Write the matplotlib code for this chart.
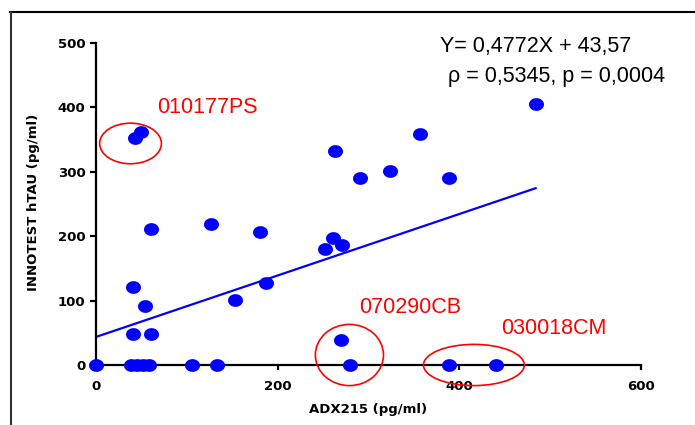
import matplotlib
matplotlib.use("Agg")
import numpy as np
import matplotlib.pyplot as plt
from matplotlib.patches import Ellipse
from matplotlib.lines import Line2D
from matplotlib.path import Path

# ---- data ----
adx215 = [0, 38, 45, 52, 58, 106, 133, 41, 54, 41, 60, 60, 127, 180, 187, 153,
          252, 261, 271, 270, 280, 389, 440, 43, 50, 263, 484, 357, 324, 291, 389]
htau = [0, 0, 0, 0, 0, 0, 0, 121, 92, 48, 48, 211, 219, 207, 127, 101,
        180, 197, 187, 39, 0, 0, 0, 353, 362, 333, 406, 358, 302, 290, 290]
slope = 0.4772
intercept = 43.57

x_ticks = [0, 200, 400, 600]
y_ticks = [0, 100, 200, 300, 400, 500]

outlier_labels = ["010177PS", "070290CB", "030018CM"]
label_xy = [(66.8, 392), (290, 80), (446, 47.5)]
ellipse_centers = [(38, 344), (279, 15.5), (416, 0)]
ellipse_w = [68, 75, 111]
ellipse_h = [63, 95, 64]

# slightly wide elliptical marker like the reference
_t = np.linspace(0, 2 * np.pi, 60)
_verts = np.column_stack([np.cos(_t), 0.85 * np.sin(_t)])
oval = Path(_verts, closed=True)

# ---- figure ----
fig = plt.figure(figsize=(6.95, 4.25), dpi=100)
ax = fig.add_axes([96 / 695, 1 - 365 / 425, 545 / 695, 322 / 425])

ax.set_xlim(0, 600)
ax.set_ylim(0, 500)
for s in ["top", "right"]:
    ax.spines[s].set_visible(False)
for s in ["left", "bottom"]:
    ax.spines[s].set_linewidth(1.6)
    ax.spines[s].set_color("black")

ax.set_xticks(x_ticks)
ax.set_yticks(y_ticks)
ax.tick_params(axis="y", direction="out", length=4.5, width=1.6, pad=3)
ax.tick_params(axis="x", direction="out", length=3.6, width=1.6, pad=7)
for lab in ax.get_xticklabels() + ax.get_yticklabels():
    lab.set_fontfamily("DejaVu Sans")
    lab.set_fontweight("bold")
    lab.set_fontsize(9.5)

ax.set_xlabel("ADX215 (pg/ml)", fontfamily="DejaVu Sans", fontweight="bold",
              fontsize=9.5, va="center")
ax.set_ylabel("INNOTEST hTAU (pg/ml)", fontfamily="DejaVu Sans", fontweight="bold",
              fontsize=9.5, va="center")
ax.xaxis.set_label_coords((368 - 96) / 545, (365 - 410) / 322)
ax.yaxis.set_label_coords((34 - 96) / 545, (365 - 202.5) / 322)

# regression line
x0, x1 = 0, max(adx215)
ax.plot([x0, x1], [slope * x0 + intercept, slope * x1 + intercept],
        color="#0000FF", lw=1.6, zorder=2)

# scatter
ax.plot(adx215, htau, linestyle="none", marker=oval, color="#0000FF",
        markersize=10.8, markeredgewidth=0, clip_on=False, zorder=3)

# outlier ellipses and labels
for (cx, cy), w, h in zip(ellipse_centers, ellipse_w, ellipse_h):
    ax.add_patch(Ellipse((cx, cy), w, h, fill=False, edgecolor="red", lw=1.2,
                         clip_on=False, zorder=4))
for txt, (tx, ty) in zip(outlier_labels, label_xy):
    ax.text(tx, ty, txt, color="red", fontsize=15.5, family="Liberation Sans",
            ha="left", va="baseline", clip_on=False)

# equation text
fig.text(440 / 695, 1 - 51.7 / 425, "Y= 0,4772X + 43,57", fontsize=15.5,
         family="Liberation Sans", ha="left", va="baseline", color="black")
fig.text(448 / 695, 1 - 81.7 / 425, "\u03c1 = 0,5345, p = 0,0004", fontsize=15.5,
         family="Liberation Sans", ha="left", va="baseline", color="black")

# outer frame (top and left edges visible)
fig.add_artist(Line2D([10 / 695, 1.0], [1 - 12 / 425, 1 - 12 / 425],
                      transform=fig.transFigure, color="black", lw=1.5))
fig.add_artist(Line2D([11 / 695, 11 / 695], [1 - 12 / 425, 0.0],
                      transform=fig.transFigure, color="#333333", lw=1.5))

fig.savefig("out.png", dpi=100)
